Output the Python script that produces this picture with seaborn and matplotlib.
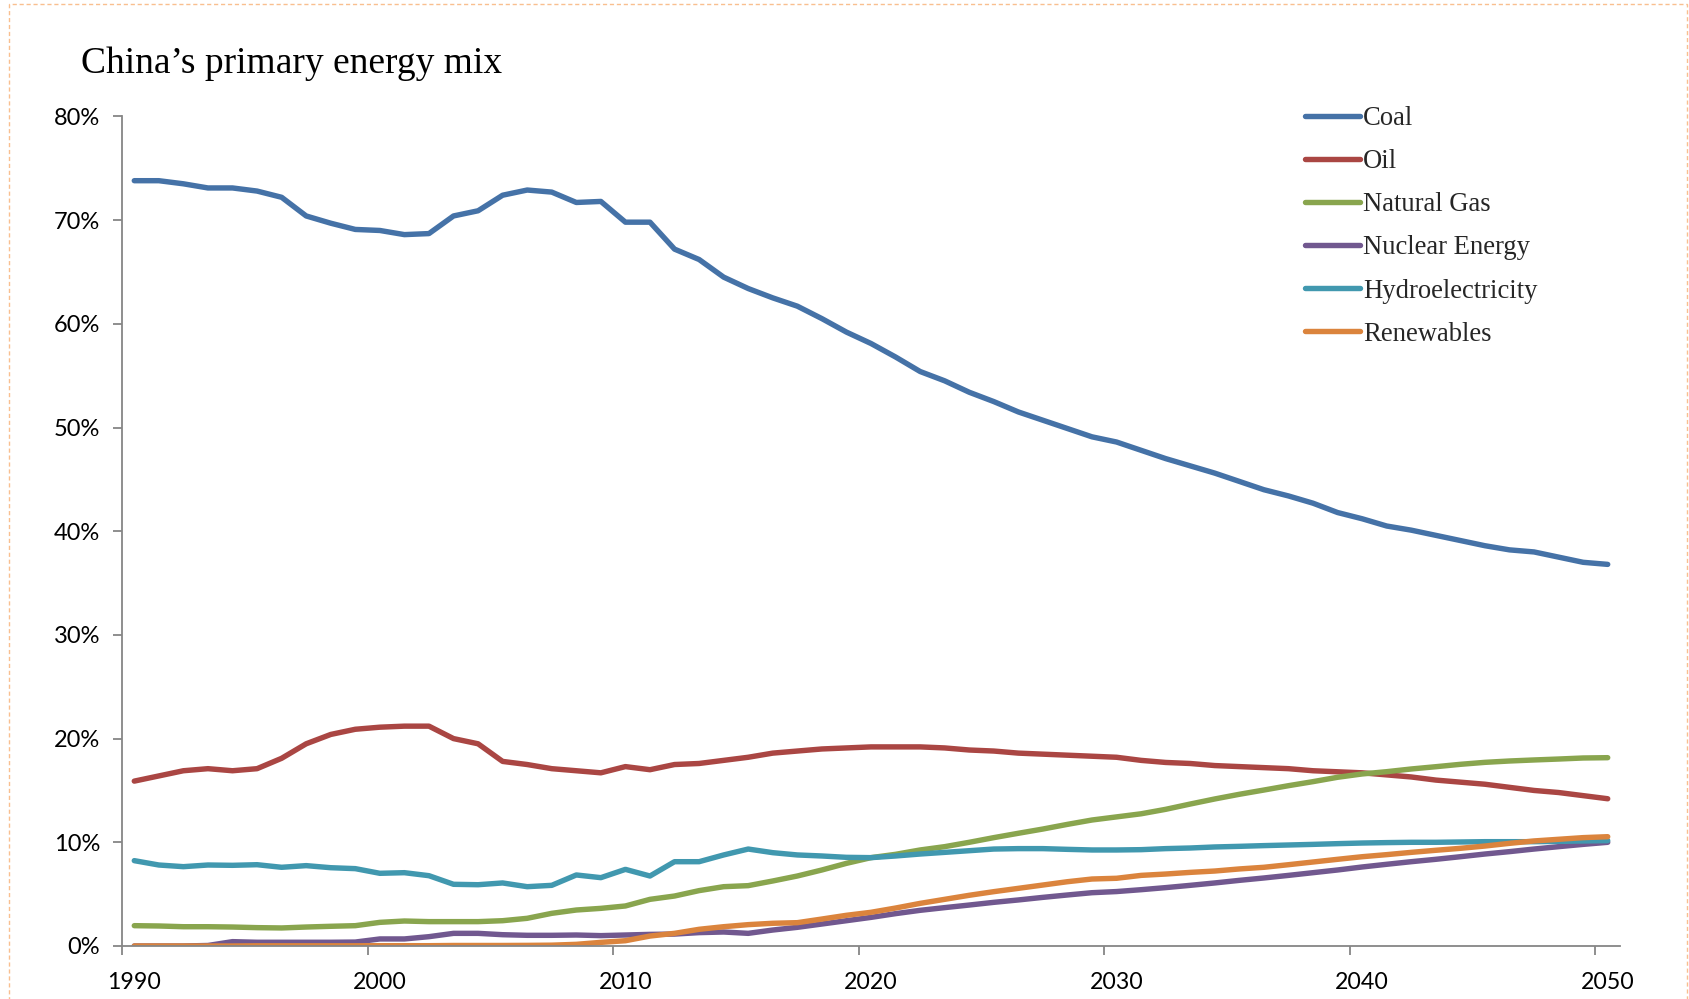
import matplotlib
matplotlib.use("Agg")
import numpy as np
import pandas as pd
import seaborn as sns
import matplotlib.pyplot as plt
from matplotlib.patches import Rectangle
from matplotlib.ticker import FixedLocator, FuncFormatter, NullFormatter

years = list(range(1990, 2051))
series_names = ["Coal", "Oil", "Natural Gas", "Nuclear Energy", "Hydroelectricity", "Renewables"]
colors = ["#4572A7", "#AA4643", "#89A54E", "#71588F", "#4198AF", "#DB843D"]

coal = [73.8, 73.8, 73.5, 73.1, 73.1, 72.8, 72.2, 70.4, 69.7, 69.1,
        69.0, 68.6, 68.7, 70.4, 70.9, 72.4, 72.9, 72.7, 71.7, 71.8,
        69.8, 69.8, 67.2, 66.2, 64.5, 63.4, 62.5, 61.7, 60.5, 59.2,
        58.1, 56.8, 55.4, 54.5, 53.4, 52.5, 51.5, 50.7, 49.9, 49.1,
        48.6, 47.8, 47.0, 46.3, 45.6, 44.8, 44.0, 43.4, 42.7, 41.8,
        41.2, 40.5, 40.1, 39.6, 39.1, 38.6, 38.2, 38.0, 37.5, 37.0,
        36.8]
oil = [15.9, 16.4, 16.9, 17.1, 16.9, 17.1, 18.1, 19.5, 20.4, 20.9,
       21.1, 21.2, 21.2, 20.0, 19.5, 17.8, 17.5, 17.1, 16.9, 16.7,
       17.3, 17.0, 17.5, 17.6, 17.9, 18.2, 18.6, 18.8, 19.0, 19.1,
       19.2, 19.2, 19.2, 19.1, 18.9, 18.8, 18.6, 18.5, 18.4, 18.3,
       18.2, 17.9, 17.7, 17.6, 17.4, 17.3, 17.2, 17.1, 16.9, 16.8,
       16.7, 16.5, 16.3, 16.0, 15.8, 15.6, 15.3, 15.0, 14.8, 14.5,
       14.2]
natural_gas = [1.96, 1.93, 1.86, 1.86, 1.83, 1.77, 1.74, 1.83, 1.90, 1.96,
               2.28, 2.41, 2.35, 2.35, 2.35, 2.44, 2.67, 3.15, 3.47, 3.63,
               3.86, 4.50, 4.82, 5.34, 5.72, 5.82, 6.27, 6.75, 7.33, 7.97,
               8.52, 8.84, 9.26, 9.58, 10.00, 10.45, 10.87, 11.28, 11.73, 12.15,
               12.45, 12.75, 13.18, 13.69, 14.18, 14.63, 15.04, 15.46, 15.85, 16.27,
               16.59, 16.81, 17.07, 17.29, 17.52, 17.71, 17.84, 17.94, 18.03, 18.13,
               18.16]
nuclear = [0.0, 0.0, 0.0, 0.05, 0.42, 0.36, 0.36, 0.36, 0.36, 0.38,
           0.68, 0.68, 0.90, 1.22, 1.22, 1.09, 1.03, 1.03, 1.06, 1.00,
           1.06, 1.12, 1.15, 1.29, 1.35, 1.22, 1.54, 1.80, 2.12, 2.44,
           2.76, 3.12, 3.44, 3.70, 3.95, 4.21, 4.44, 4.69, 4.92, 5.14,
           5.25, 5.43, 5.63, 5.85, 6.08, 6.33, 6.56, 6.81, 7.07, 7.33,
           7.62, 7.88, 8.13, 8.36, 8.61, 8.87, 9.10, 9.35, 9.58, 9.80,
           10.0]
hydro = [8.23, 7.81, 7.65, 7.81, 7.78, 7.84, 7.59, 7.75, 7.55, 7.46,
         7.01, 7.07, 6.78, 5.95, 5.91, 6.08, 5.72, 5.85, 6.85, 6.59,
         7.39, 6.75, 8.13, 8.13, 8.78, 9.35, 9.00, 8.78, 8.68, 8.55,
         8.52, 8.68, 8.87, 9.03, 9.19, 9.35, 9.39, 9.39, 9.32, 9.26,
         9.26, 9.29, 9.39, 9.45, 9.55, 9.61, 9.68, 9.74, 9.80, 9.87,
         9.93, 9.97, 10.00, 10.00, 10.03, 10.06, 10.06, 10.06, 10.09, 10.13,
         10.16]
renewables = [0.0, 0.0, 0.0, 0.0, 0.0, 0.02, 0.02, 0.02, 0.02, 0.02,
              0.03, 0.03, 0.03, 0.05, 0.05, 0.05, 0.06, 0.08, 0.16, 0.35,
              0.51, 0.96, 1.22, 1.61, 1.86, 2.06, 2.19, 2.25, 2.60, 2.96,
              3.25, 3.66, 4.11, 4.50, 4.89, 5.24, 5.56, 5.88, 6.20, 6.46,
              6.53, 6.81, 6.94, 7.10, 7.23, 7.43, 7.59, 7.84, 8.10, 8.36,
              8.61, 8.81, 9.03, 9.23, 9.42, 9.64, 9.90, 10.13, 10.29, 10.45,
              10.54]

y_ticks = [0, 10, 20, 30, 40, 50, 60, 70, 80]
x_label_years = [1990, 2000, 2010, 2020, 2030, 2040, 2050]

values = [coal, oil, natural_gas, nuclear, hydro, renewables]
df = pd.concat([pd.DataFrame({"Year": years, "Share": v, "Source": n})
                for n, v in zip(series_names, values)], ignore_index=True)

sns.set_theme(style="white")
plt.rcParams["font.family"] = ["Lato", "DejaVu Sans"]

fig = plt.figure(figsize=(16.9, 9.99), dpi=100)
ax = fig.add_axes([122 / 1690, 53 / 999, (1620 - 122) / 1690, (946 - 116.4) / 999])

sns.lineplot(data=df, x="Year", y="Share", hue="Source", hue_order=series_names,
             palette=colors, linewidth=3.9, legend=False, ax=ax,
             solid_capstyle="round", solid_joinstyle="round")

ax.set_xlim(years[0] - 0.5, years[-1] + 0.5)
ax.set_ylim(0, 80)
ax.set_xlabel("")
ax.set_ylabel("")

axis_grey = "#868686"
for s in ["top", "right"]:
    ax.spines[s].set_visible(False)
for s in ["left", "bottom"]:
    ax.spines[s].set_color(axis_grey)
    ax.spines[s].set_linewidth(1.3)

ax.set_yticks(y_ticks)
ax.yaxis.set_major_formatter(FuncFormatter(lambda v, p: f"{v:.0f}%"))
ax.tick_params(axis="y", which="major", length=6.3, width=1.3, color=axis_grey,
               direction="out", left=True, labelsize=17, pad=9.5, labelcolor="black")

# category-style x axis: tick marks between categories, labels on categories
ax.xaxis.set_major_locator(FixedLocator([y - 0.5 for y in x_label_years]))
ax.xaxis.set_major_formatter(NullFormatter())
ax.xaxis.set_minor_locator(FixedLocator(x_label_years))
ax.xaxis.set_minor_formatter(FuncFormatter(lambda v, p: f"{int(round(v))}"))
ax.tick_params(axis="x", which="major", length=6.3, width=1.3, color=axis_grey,
               direction="out", bottom=True)
ax.tick_params(axis="x", which="minor", length=0, bottom=True, labelsize=16.7,
               pad=19, labelcolor="black")
ax.grid(False)

fig.text(81 / 1690, 1 - 73.3 / 999, "China\u2019s primary energy mix",
         family=["Liberation Serif", "DejaVu Serif"], fontsize=27, va="baseline",
         ha="left", color="black")

lines = ax.get_lines()[:len(series_names)]
leg = ax.legend(lines, series_names, loc="upper left",
                bbox_to_anchor=(1305 / 1690, 1 - 106 / 999),
                bbox_transform=fig.transFigure, frameon=False,
                prop={"family": ["Liberation Serif", "DejaVu Serif"], "size": 19.2},
                handlelength=2.05, handletextpad=0.12, labelspacing=0.68,
                borderpad=0, borderaxespad=0)

fig.patches.append(Rectangle((9 / 1690, -0.05), (1687 - 9) / 1690, 1.05 - 4 / 999,
                             transform=fig.transFigure, fill=False,
                             edgecolor="#F9BF8F", linewidth=1.0, linestyle=(0, (3, 2))))

fig.savefig("out.png", dpi=100, facecolor="white")
